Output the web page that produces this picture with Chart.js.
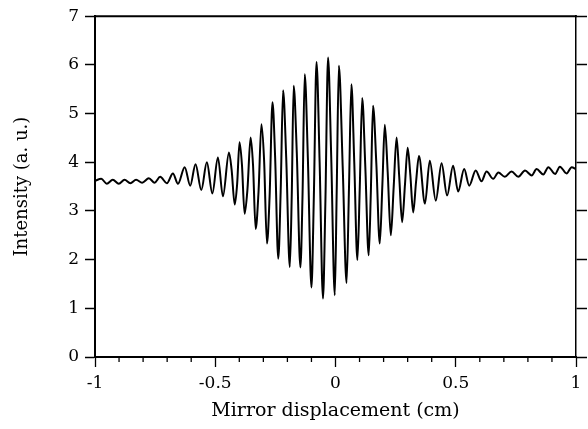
<!DOCTYPE html>
<html>
<head>
<meta charset="utf-8">
<script src="https://cdn.jsdelivr.net/npm/chart.js@4"></script>
<style>
html,body{margin:0;padding:0;background:#fff;}
#wrap{width:588px;height:429px;}
</style>
</head>
<body>
<div id="wrap"><canvas id="c" width="588" height="429"></canvas></div>
<script>
const displacement = [-1.000,-0.974,-0.951,-0.926,-0.901,-0.877,-0.853,-0.829,-0.804,-0.776,-0.752,-0.729,-0.701,-0.676,-0.655,-0.627,-0.604,-0.582,-0.558,-0.535,-0.512,-0.489,-0.468,-0.443,-0.432,-0.419,-0.409,-0.399,-0.389,-0.378,-0.366,-0.353,-0.343,-0.332,-0.320,-0.308,-0.297,-0.285,-0.274,-0.262,-0.251,-0.238,-0.228,-0.218,-0.205,-0.190,-0.182,-0.174,-0.161,-0.146,-0.137,-0.128,-0.115,-0.100,-0.090,-0.079,-0.066,-0.052,-0.042,-0.031,-0.018,-0.003,0.005,0.014,0.030,0.046,0.056,0.066,0.078,0.091,0.101,0.111,0.124,0.138,0.147,0.156,0.170,0.184,0.195,0.205,0.217,0.230,0.242,0.254,0.265,0.277,0.289,0.300,0.311,0.323,0.335,0.347,0.372,0.392,0.417,0.441,0.464,0.489,0.510,0.535,0.556,0.583,0.607,0.628,0.656,0.677,0.704,0.732,0.760,0.788,0.816,0.836,0.864,0.885,0.913,0.933,0.961,0.982,1.000];
const intensity = [3.62,3.66,3.56,3.64,3.56,3.64,3.57,3.64,3.58,3.67,3.58,3.70,3.57,3.77,3.56,3.90,3.52,3.96,3.43,4.00,3.36,4.10,3.30,4.20,3.85,3.13,3.55,4.41,3.95,2.94,3.45,4.51,3.95,2.63,3.40,4.78,4.05,2.33,3.30,5.23,4.10,2.02,3.40,5.48,4.10,1.85,3.30,5.57,4.20,1.84,3.35,5.81,4.10,1.43,3.30,6.06,4.00,1.20,3.20,6.15,4.15,1.27,3.40,5.98,3.90,1.52,3.45,5.60,4.00,1.99,3.50,5.32,3.90,2.09,3.40,5.16,3.95,2.33,3.55,4.77,3.80,2.50,3.50,4.51,3.70,2.77,3.55,4.30,3.75,2.97,3.60,4.13,3.15,4.03,3.21,3.98,3.32,3.93,3.40,3.86,3.52,3.83,3.61,3.81,3.66,3.79,3.70,3.81,3.70,3.83,3.73,3.86,3.75,3.90,3.76,3.91,3.77,3.90,3.86];
const xTickLabels = ['-1','-0.5','0','0.5','1'];
const yTickLabels = ['0','1','2','3','4','5','6','7'];
const xTitle = 'Mirror displacement (cm)';
const yTitle = 'Intensity (a. u.)';

const points = displacement.map((x, i) => ({x: x, y: intensity[i]}));
const FONT = "'DejaVu Serif', 'Liberation Serif', serif";

const isMajor = v => Math.abs(v * 2 - Math.round(v * 2)) < 1e-6;

const framePlugin = {
  id: 'frame',
  afterDraw(chart) {
    const ctx = chart.ctx, a = chart.chartArea, xs = chart.scales.x;
    ctx.save();
    ctx.strokeStyle = '#000';
    ctx.lineWidth = 2;
    ctx.beginPath();
    ctx.moveTo(a.left - 1, a.top);
    ctx.lineTo(a.right + 1, a.top);
    ctx.stroke();
    ctx.lineWidth = 1.3;
    xs.ticks.forEach(t => {
      if (!isMajor(t.value)) {
        const px = xs.getPixelForValue(t.value);
        ctx.beginPath();
        ctx.moveTo(px, a.bottom);
        ctx.lineTo(px, a.bottom + 5);
        ctx.stroke();
      }
    });
    ctx.restore();
  }
};

new Chart(document.getElementById('c'), {
  type: 'line',
  data: {
    datasets: [{
      data: points,
      borderColor: '#000',
      borderWidth: 2,
      pointRadius: 0,
      cubicInterpolationMode: 'monotone',
      fill: false
    }]
  },
  options: {
    responsive: false,
    animation: false,
    layout: {padding: {left: 8, right: 1, top: 15, bottom: 2}},
    plugins: {legend: {display: false}, tooltip: {enabled: false}},
    scales: {
      x: {
        type: 'linear', min: -1, max: 1,
        afterFit(s) { s.height = 70; },
        ticks: {
          stepSize: 0.1, autoSkip: false, maxRotation: 0, padding: 6,
          color: '#000', font: {family: FONT, size: 17},
          callback: v => isMajor(v) ? xTickLabels[Math.round((v + 1) * 2)] : ''
        },
        grid: {drawOnChartArea: false, tickLength: 10, tickWidth: 1.3,
          tickColor: c => (c.tick && isMajor(c.tick.value)) ? '#000' : 'rgba(0,0,0,0)'},
        border: {display: true, color: '#000', width: 2},
        title: {display: true, text: xTitle, color: '#000', font: {family: FONT, size: 19}, padding: {top: 2, bottom: 5}}
      },
      y: {
        type: 'linear', min: 0, max: 7, position: 'left',
        afterFit(s) { s.width = 87; },
        ticks: {stepSize: 1, padding: 6, color: '#000', font: {family: FONT, size: 17},
          callback: v => yTickLabels[v]},
        grid: {drawOnChartArea: false, tickLength: 10, tickWidth: 1.5, tickColor: '#000'},
        border: {display: true, color: '#000', width: 2},
        title: {display: true, text: yTitle, color: '#000', font: {family: FONT, size: 18}, padding: {top: 4, bottom: 4}}
      },
      y2: {
        type: 'linear', min: 0, max: 7, position: 'right',
        afterFit(s) { s.width = 11; },
        ticks: {display: false, stepSize: 1},
        grid: {drawOnChartArea: false, tickLength: 11, tickWidth: 1.5, tickColor: '#000'},
        border: {display: true, color: '#000', width: 1.5}
      }
    }
  },
  plugins: [framePlugin]
});
</script>
</body>
</html>
